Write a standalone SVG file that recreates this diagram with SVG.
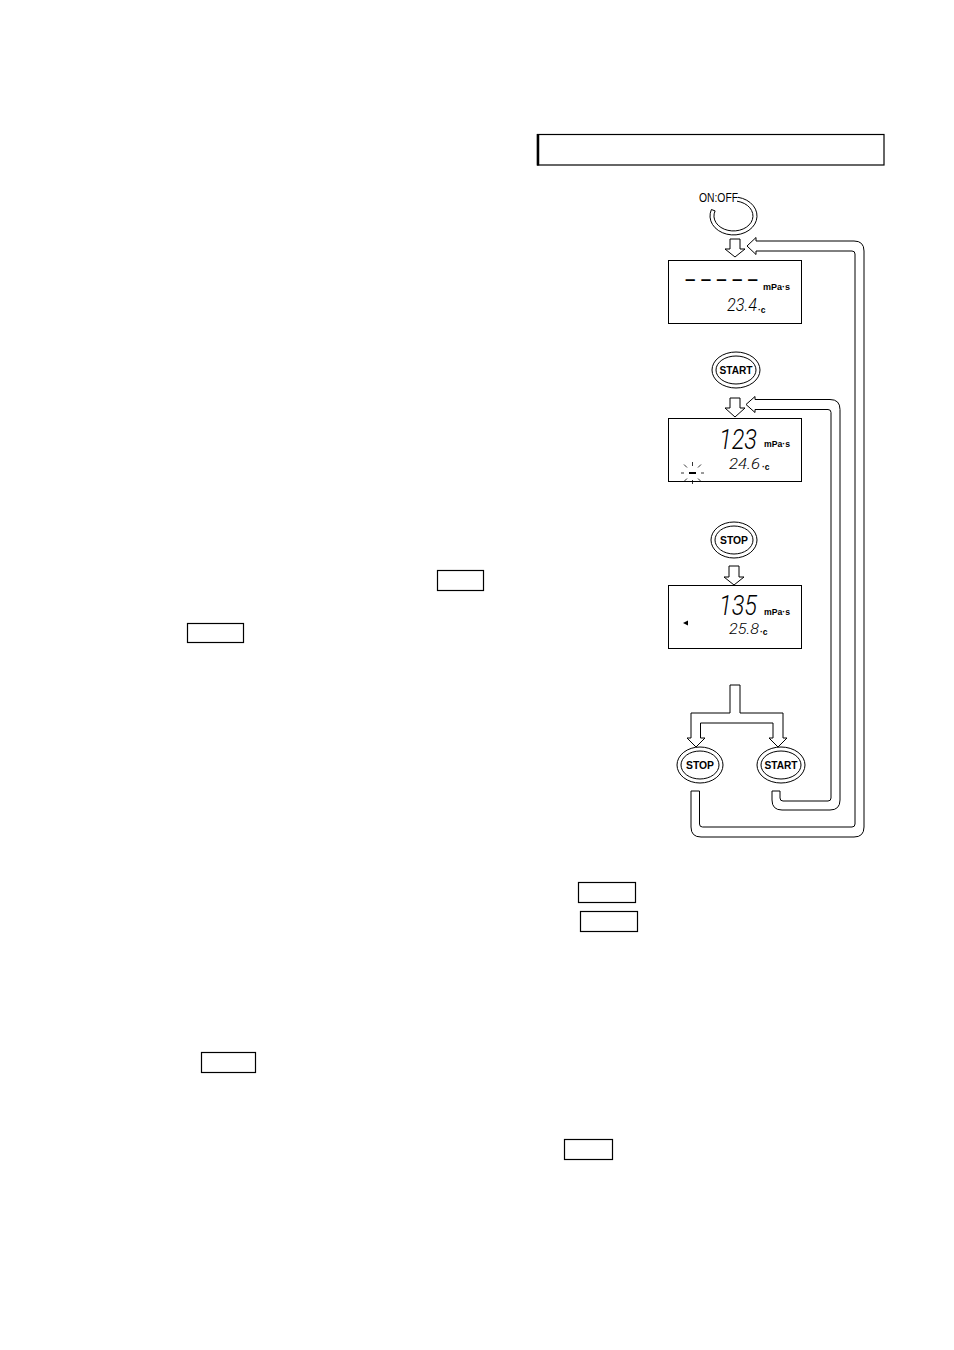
<svg xmlns="http://www.w3.org/2000/svg" width="954" height="1350" viewBox="0 0 954 1350">
<style>
  .box{fill:none;stroke:#000;stroke-width:1.2}
  .lcd{fill:#fff;stroke:#000;stroke-width:1}
  .pipe{fill:#fff;stroke:#000;stroke-width:1;stroke-linejoin:round}
  .ring{fill:none;stroke:#000;stroke-width:1}
  .btn{font-family:"Liberation Sans",Arial,sans-serif;font-weight:bold;font-size:10px;text-anchor:middle}
  .seg{font-family:"Roboto","Liberation Sans",sans-serif;font-weight:300;font-style:italic;fill:#000}
  .unit{font-family:"Liberation Sans",Arial,sans-serif;font-weight:bold;font-size:8.5px}
</style>
<rect width="954" height="1350" fill="#fff"/>

<g id="header-box">
  <rect class="box" x="537.5" y="134.5" width="346.5" height="30.5"/>
  <line x1="538" y1="134" x2="538" y2="165.5" stroke="#000" stroke-width="2.5"/>
</g>
<g id="key-box-1"><rect class="box" x="437.5" y="570.5" width="46" height="20"/></g>
<g id="key-box-2"><rect class="box" x="187.5" y="623.5" width="56" height="19"/></g>
<g id="key-box-3"><rect class="box" x="578.5" y="882.5" width="57" height="20"/></g>
<g id="key-box-4"><rect class="box" x="580.5" y="911.5" width="57" height="20"/></g>
<g id="key-box-5"><rect class="box" x="201.5" y="1052.5" width="54" height="20"/></g>
<g id="key-box-6"><rect class="box" x="564.5" y="1139.5" width="48" height="20"/></g>

<g id="onoff-button">
  <path class="ring" d="M738,197.3 A23.5,19 0 1,1 711.4,209.5 L715.1,210.9 A19.5,15 0 1,0 737,201.2"/>
  <text x="699" y="201.5" font-family="Liberation Sans, Arial, sans-serif" font-size="12" textLength="39" lengthAdjust="spacingAndGlyphs">ON:OFF</text>
</g>

<g id="display-1">
  <rect class="lcd" x="668.5" y="260.5" width="133" height="63"/>
  <text x="685" y="285" font-family="Liberation Sans, Arial, sans-serif" font-weight="bold" font-size="18" textLength="73" lengthAdjust="spacingAndGlyphs">– – – – –</text>
  <text class="unit" x="763" y="290" textLength="27" lengthAdjust="spacingAndGlyphs">mPa·s</text>
  <text class="seg" x="727" y="311" font-size="18" textLength="30" lengthAdjust="spacingAndGlyphs">23.4</text>
  <text class="unit" x="758" y="313">·c</text>
</g>

<g id="start-button-1">
  <ellipse class="ring" cx="736" cy="370" rx="24" ry="18"/>
  <ellipse class="ring" cx="736" cy="370" rx="20" ry="14"/>
  <text class="btn" x="736" y="374" textLength="33" lengthAdjust="spacingAndGlyphs">START</text>
</g>

<g id="display-2">
  <rect class="lcd" x="668.5" y="418.5" width="133" height="63"/>
  <text class="seg" x="719" y="449" font-size="28" textLength="38" lengthAdjust="spacingAndGlyphs">123</text>
  <text class="unit" x="764" y="447" textLength="26" lengthAdjust="spacingAndGlyphs">mPa·s</text>
  <text class="seg" x="729" y="469" font-size="15" textLength="31" lengthAdjust="spacingAndGlyphs">24.6</text>
  <text class="unit" x="762" y="470">·c</text>
  <g stroke="#000" stroke-width="0.8">
    <line x1="689" y1="473" x2="696" y2="473" stroke-width="2"/>
    <line x1="692.5" y1="466" x2="692.5" y2="462"/>
    <line x1="692.5" y1="480" x2="692.5" y2="484"/>
    <line x1="684" y1="473" x2="681" y2="473"/>
    <line x1="701" y1="473" x2="704" y2="473"/>
    <line x1="687" y1="467.5" x2="684" y2="464.5"/>
    <line x1="698" y1="467.5" x2="701" y2="464.5"/>
    <line x1="687" y1="478.5" x2="684" y2="481.5"/>
    <line x1="698" y1="478.5" x2="701" y2="481.5"/>
  </g>
</g>

<g id="stop-button-1">
  <ellipse class="ring" cx="734" cy="540" rx="23" ry="18"/>
  <ellipse class="ring" cx="734" cy="540" rx="19" ry="14"/>
  <text class="btn" x="734" y="544" textLength="28" lengthAdjust="spacingAndGlyphs">STOP</text>
</g>

<g id="display-3">
  <rect class="lcd" x="668.5" y="585.5" width="133" height="63"/>
  <polygon points="683,623 688,620.5 688,625.5" fill="#000"/>
  <text class="seg" x="719" y="615" font-size="28" textLength="38" lengthAdjust="spacingAndGlyphs">135</text>
  <text class="unit" x="764" y="615" textLength="26" lengthAdjust="spacingAndGlyphs">mPa·s</text>
  <text class="seg" x="729" y="634" font-size="15" textLength="30" lengthAdjust="spacingAndGlyphs">25.8</text>
  <text class="unit" x="760" y="635">·c</text>
</g>

<g id="stop-button-2">
  <ellipse class="ring" cx="700" cy="765" rx="23" ry="18"/>
  <ellipse class="ring" cx="700" cy="765" rx="19" ry="14"/>
  <text class="btn" x="700" y="769" textLength="28" lengthAdjust="spacingAndGlyphs">STOP</text>
</g>

<g id="start-button-2">
  <ellipse class="ring" cx="781" cy="765" rx="24" ry="18"/>
  <ellipse class="ring" cx="781" cy="765" rx="20" ry="14"/>
  <text class="btn" x="781" y="769" textLength="33" lengthAdjust="spacingAndGlyphs">START</text>
</g>

<g id="connectors">
  <path class="pipe" d="M730,239 L740,239 L740,249 L745,249 L735,257 L725,249 L730,249 Z"/>
  <path class="pipe" d="M730,398 L740,398 L740,408 L745,408 L735,417 L725,408 L730,408 Z"/>
  <path class="pipe" d="M729,566 L739,566 L739,577 L744,577 L734,585 L724,577 L729,577 Z"/>
  <path class="pipe" d="M730,685 L740,685 L740,713 L783,713 L783,738 L787,738 L778,747 L769,738 L773,738 L773,723 L700.5,723 L700.5,738 L705,738 L696,747 L687,738 L691,738 L691,713 L730,713 Z"/>
  <path class="pipe" d="M747,246 L756,237.5 L756,241 L854,241 Q864,241 864,251 L864,827 Q864,837 854,837 L701,837 Q691,837 691,827 L691,791 L699.5,791 L699.5,824 Q699.5,827 702.5,827 L852,827 Q855,827 855,824 L855,254 Q855,251 852,251 L756,251 L756,254.5 Z"/>
  <path class="pipe" d="M746,404.5 L755,396.5 L755,399.5 L830,399.5 Q840,399.5 840,409.5 L840,800 Q840,810 830,810 L782,810 Q772,810 772,800 L772,791 L780,791 L780,798 Q780,801 783,801 L828,801 Q831,801 831,798 L831,412.5 Q831,409.5 828,409.5 L755,409.5 L755,412.5 Z"/>
</g>
</svg>
